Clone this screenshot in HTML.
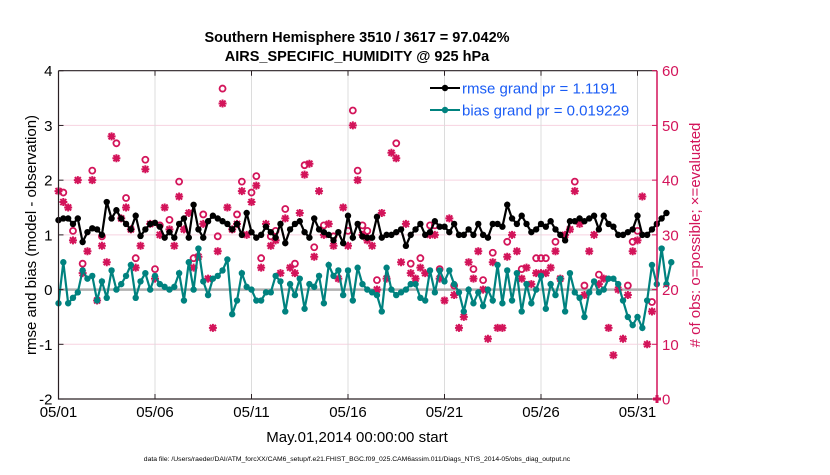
<!DOCTYPE html>
<html><head><meta charset="utf-8"><style>
body{margin:0;background:#fff;}
svg text{font-family:"Liberation Sans",Arial,sans-serif;}
</style></head><body>
<svg id="chart" width="830" height="470" xmlns="http://www.w3.org/2000/svg">
<rect width="830" height="470" fill="#fff"/>
<text x="357" y="42" text-anchor="middle" font-size="14.5" font-weight="bold">Southern Hemisphere 3510 / 3617 = 97.042%</text>
<text x="357" y="61" text-anchor="middle" font-size="14.5" font-weight="bold">AIRS_SPECIFIC_HUMIDITY @ 925 hPa</text>
<g id="grid"></g>
<g id="marks"></g>
<g id="axes"></g>
<text transform="translate(36,235) rotate(-90)" text-anchor="middle" font-size="15">rmse and bias (model - observation)</text>
<text transform="translate(700,235) rotate(-90)" text-anchor="middle" font-size="15" fill="#d3145a"># of obs: o=possible; ×=evaluated</text>
<text x="357" y="442" text-anchor="middle" font-size="15">May.01,2014 00:00:00 start</text>
<text x="357" y="461" text-anchor="middle" font-size="6.8">data file: /Users/raeder/DAI/ATM_forcXX/CAM6_setup/f.e21.FHIST_BGC.f09_025.CAM6assim.011/Diags_NTrS_2014-05/obs_diag_output.nc</text>
<g>
<line x1="430" y1="88" x2="460" y2="88" stroke="#000" stroke-width="2"/>
<circle cx="445" cy="88" r="3.2" fill="#000"/>
<text x="462" y="93.5" font-size="15" fill="#1a5cf5">rmse grand pr = 1.1191</text>
<line x1="430" y1="110" x2="460" y2="110" stroke="#00827f" stroke-width="2"/>
<circle cx="445" cy="110" r="3.2" fill="#00827f"/>
<text x="462" y="115.5" font-size="15" fill="#1a5cf5">bias grand pr = 0.019229</text>
</g>
</svg>
<script>
const rmse = [1.27,1.3,1.3,1.2,1.3,0.87,1.05,1.12,1.1,1.0,1.6,1.3,1.45,1.3,1.2,1.1,1.35,0.98,1.1,1.2,1.22,
1.15,0.95,1.05,0.95,1.2,1.3,0.95,1.55,1.1,0.95,1.25,1.35,1.3,1.25,1.2,1.1,1.2,1.0,1.4,1.05,0.95,
1.0,1.15,1.05,0.95,1.2,0.85,1.1,1.2,1.25,1.05,0.95,1.3,1.1,1.05,1.0,0.9,1.05,0.85,1.35,0.95,1.2,
0.97,0.95,0.95,1.33,0.95,1.0,1.0,1.05,1.1,0.8,1.0,1.1,1.2,1.0,1.05,1.25,1.15,1.15,1.05,1.2,1.0,1.0,1.1,1.0,1.2,1.0,0.95,1.2,1.2,1.15,1.55,1.3,1.2,1.35,1.2,1.05,1.1,1.2,1.15,1.25,1.1,1.0,0.9,1.25,1.25,1.3,1.25,1.3,1.35,1.1,1.35,1.2,1.15,1.0,1.0,1.05,1.1,1.35,1.0,1.0,1.1,1.2,1.3,1.4];
const bias = [-0.25,0.5,-0.25,-0.15,-0.05,0.35,0.2,0.25,-0.2,0.15,-0.15,0.35,0.0,0.1,0.25,0.45,-0.15,0.15,0.3,0.0,0.25,
0.1,0.05,0.0,0.05,0.3,-0.2,0.5,0.0,0.75,0.15,-0.1,0.2,0.25,0.35,0.55,-0.45,-0.2,0.3,0.05,0.0,-0.2,
-0.2,-0.05,-0.05,0.25,0.15,-0.4,0.1,-0.1,0.2,-0.35,0.1,0.05,0.25,-0.25,0.45,0.25,0.35,-0.1,0.35,-0.2,0.4,
0.1,0.0,-0.05,-0.1,-0.4,0.4,0.0,-0.1,-0.05,0.0,0.1,0.1,-0.15,-0.2,0.35,-0.05,0.35,0.15,0.35,0.1,-0.05,
-0.4,0.0,-0.25,-0.05,-0.3,0.0,-0.2,0.45,-0.25,0.35,-0.2,0.3,-0.4,0.1,-0.25,0.0,0.25,-0.35,0.1,
-0.1,0.2,-0.4,0.3,-0.05,-0.15,-0.5,-0.05,0.15,-0.05,0.0,0.2,0.2,0.1,-0.2,-0.5,-0.65,-0.5,-0.7,-0.2,0.45,0.1,0.75,0.1,0.5];
const evaluated = [38,36,35,29,40,23,27,40,18,28,25,48,44,33,35,31,24,28,42,32,22,
30,35,31,28,37,31,34,24,26,32,22,13,27,54,35,31,32,38,30,36,39,
24,32,28,29,23,33,24,23,34,41,43,26,38,30,32,28,22,35,28,50,40,
30,29,28,20,34,22,45,44,25,32,23,22,24,23,30,30,22,18,33,19,13,15,25,22,27,20,11,25,13,13,26,30,27,22,24,21,23,23,23,24,27,22,30,31,38,32,19,27,30,21,22,13,8,20,11,19,27,29,37,10,16];
const possible = [38,37,35,30,40,24,27,41,18,29,25,48,46,33,36,31,25,28,43,32,23,
31,35,32,28,39,31,34,25,26,33,22,13,29,56,35,31,33,39,30,37,40,
25,32,29,30,23,34,24,24,34,42,43,27,38,31,32,29,22,35,30,52,41,
31,30,28,21,34,22,45,46,25,32,24,22,25,23,31,31,23,18,33,20,13,15,25,23,27,21,11,26,13,13,28,30,27,23,24,21,25,25,25,24,28,22,30,31,39,32,20,27,30,22,22,13,8,20,11,20,28,30,37,10,17];
const xTickLabels = ["05/01","05/06","05/11","05/16","05/21","05/26","05/31"];
const yLeftTicks = [4,3,2,1,0,-1,-2];
const yRightTicks = [60,50,40,30,20,10,0];

const X0=58.5, X1=657, T0=70.7, B0=399, PXDAY=19.3;
const xs = t => X0 + t*PXDAY;
const yL = v => 289.6 - v*(B0-T0)/6;
const yR = c => B0 - c*(B0-T0)/60;
const NS="http://www.w3.org/2000/svg";
function mk(tag, attrs, parent){const e=document.createElementNS(NS,tag);for(const k in attrs)e.setAttribute(k,attrs[k]);parent.appendChild(e);return e;}
const grid=document.getElementById('grid'), marks=document.getElementById('marks'), axes=document.getElementById('axes');

yRightTicks.forEach(c=>{ if(c>0&&c<60){const l=mk('line',{x1:X0,x2:X1,y1:yR(c),y2:yR(c),stroke:'#f7d3e0','stroke-width':1},grid);

}});
xTickLabels.forEach((s,i)=>{const x=xs(i*5); if(i>0){const l=mk('line',{x1:x,x2:x,y1:T0,y2:B0,stroke:'#dcdcdc','stroke-width':1},grid);

}});
const z=mk('line',{x1:X0,x2:X1,y1:yL(0),y2:yL(0),stroke:'#b0b0b0','stroke-width':2.5},grid);



const tOf=i=>i*0.25;
evaluated.forEach((c,i)=>{const x=xs(tOf(i)), y=yR(c);
 const g=mk('g',{},marks);
 
 
 mk('path',{d:`M${x-4} ${y}H${x+4}M${x} ${y-4}V${y+4}M${x-3} ${y-3}L${x+3} ${y+3}M${x-3} ${y+3}L${x+3} ${y-3}`,stroke:'#d3145a','stroke-width':2},g);
});
possible.forEach((c,i)=>{ if(c!==evaluated[i]){const x=xs(tOf(i)), y=yR(c)-4;
 const ci=mk('circle',{cx:x,cy:y,r:3,fill:'none',stroke:'#d3145a','stroke-width':1.8},marks);
 
 }});

function series(arr,color,name){
 const p=mk('polyline',{points:arr.map((v,i)=>xs(tOf(i))+','+yL(v)).join(' '),fill:'none',stroke:color,'stroke-width':2.2},marks);
 
 
 arr.forEach((v,i)=>{const c=mk('circle',{cx:xs(tOf(i)),cy:yL(v),r:3.2,fill:color},marks);
  
  });
}
series(bias,'#00827f','bias');
series(rmse,'#000','rmse');

const zm=mk('path',{d:`M${X1-4} ${B0}H${X1+4}M${X1} ${B0-4}V${B0+4}`,stroke:'#d3145a','stroke-width':3},marks);



mk('path',{d:`M${X0} ${T0}V${B0}H${X1}`,stroke:'#2a2024',fill:'none','stroke-width':1.2},axes);
mk('line',{x1:X0,x2:X1,y1:T0,y2:T0,stroke:'#2a2024','stroke-width':1.2},axes);
mk('line',{x1:X1,x2:X1,y1:T0,y2:B0,stroke:'#d3145a','stroke-width':1.5},axes);
yLeftTicks.forEach(v=>{const y=yL(v);
 mk('line',{x1:X0,x2:X0+5,y1:y,y2:y,stroke:'#2a2024'},axes);
 const t=mk('text',{x:X0-6,y:y+5.5,'text-anchor':'end','font-size':15},axes);
 
 
 t.textContent=v;});
yRightTicks.forEach(c=>{const y=yR(c);
 mk('line',{x1:X1-5,x2:X1,y1:y,y2:y,stroke:'#d3145a'},axes);
 const t=mk('text',{x:X1+5,y:y+5.5,'font-size':15,fill:'#d3145a'},axes);
 
 
 t.textContent=c;});
xTickLabels.forEach((s,i)=>{const x=xs(i*5);
 mk('line',{x1:x,x2:x,y1:B0-5,y2:B0,stroke:'#2a2024'},axes);
 mk('line',{x1:x,x2:x,y1:T0,y2:T0+5,stroke:'#2a2024'},axes);
 const t=mk('text',{x:x,y:B0+18,'text-anchor':'middle','font-size':15},axes);
 
 
 t.textContent=s;});
</script>
</body></html>
